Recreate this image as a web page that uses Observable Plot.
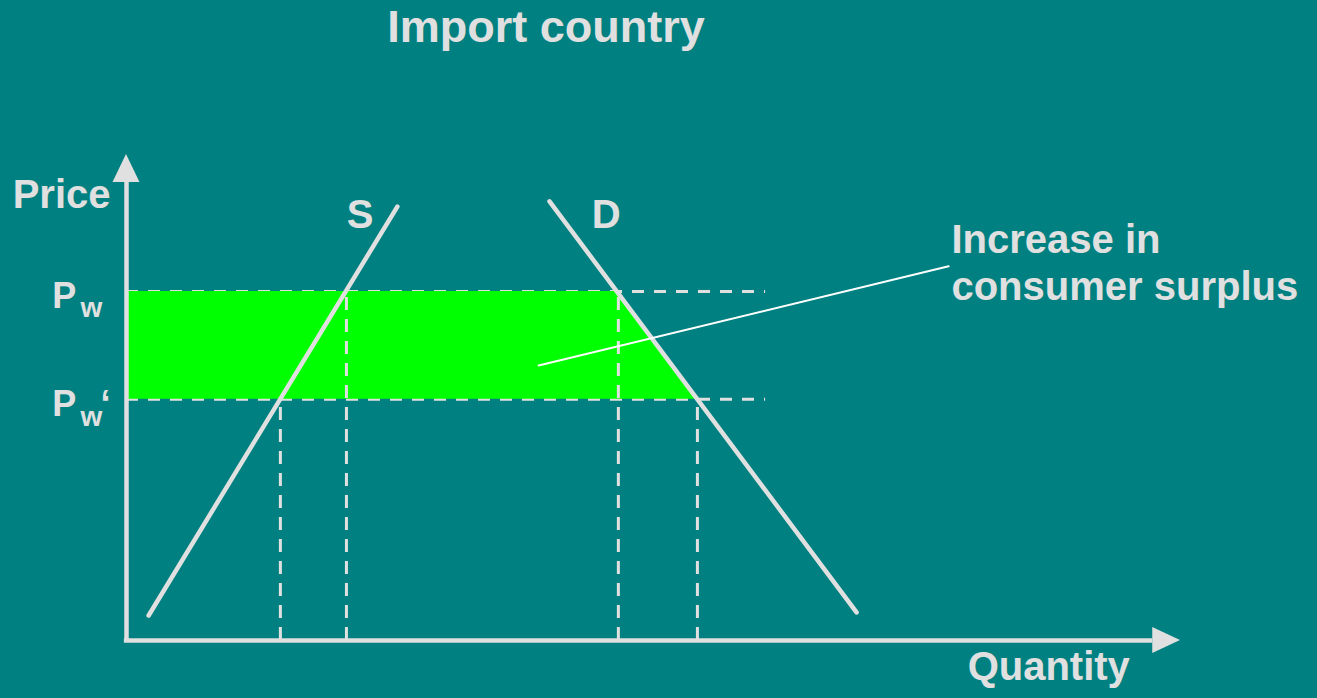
<!DOCTYPE html>
<html>
<head>
<meta charset="utf-8">
<script src="https://cdn.jsdelivr.net/npm/d3@7"></script>
<script src="https://cdn.jsdelivr.net/npm/@observablehq/plot@0.6"></script>
<style>
  html, body { margin: 0; padding: 0; background: #008080; overflow: hidden; }
  #title { height: 58px; padding-top: 2px; width: 1092px; text-align: center; font: bold 45px "Liberation Sans", Arial, sans-serif; line-height: 50px; color: #e0e0e0; }
  #chart svg { display: block; }
</style>
</head>
<body>
<div id="title">Import country</div>
<div id="chart"></div>
<script>
// ---- data (abstract quantity / price units) ----
const axisMax = { q: 30, p: 14 };               // arrow tips
const arrowBase = { q: 29.21, p: 13.19 };       // where arrowheads start
const arrowHalf = { q: 0.384, p: 0.375 };       // half-width of arrowheads

const supplyLine = [ { q: 0.63, p: 0.72 }, { q: 7.71, p: 12.50 } ];
const demandLine = [ { q: 12.04, p: 12.65 }, { q: 20.78, p: 0.81 } ];

const worldPrices = [ { name: "Pw", p: 10.05 }, { name: "Pw'", p: 6.95 } ];
const priceDashEnd = 18.19;

// quantities at Pw' (supply), Pw (supply), Pw (demand), Pw' (demand)
const quantityDashes = [
  { q: 4.38, p: 6.95 },
  { q: 6.26, p: 10.05 },
  { q: 14.0, p: 10.05 },
  { q: 16.25, p: 6.95 }
];

// consumer surplus gain: trapezoid between Pw' and Pw, left of demand
const surplusArea = [
  { p: 6.95, q1: 0, q2: 16.25 },
  { p: 10.05, q1: 0, q2: 14.0 }
];

const pointerLine = [ { q: 11.73, p: 7.92 }, { q: 23.40, p: 10.78 } ];

const curveLabels = [ { text: "S", q: 6.65, p: 11.87 }, { text: "D", q: 13.65, p: 11.87 } ];
const priceAxisLabel = [ { text: "Price", q: -0.455, p: 12.45 } ];
const quantityAxisLabel = [ { text: "Quantity", q: 26.25, p: -1.15 } ];
const priceLabelP = [ { q: -2.11, p: 9.59 }, { q: -2.11, p: 6.48 } ];
const priceLabelW = [ { q: -1.31, p: 9.31 }, { q: -1.31, p: 6.19 } ];
const priceLabelPrime = [ { q: -0.74, p: 6.48 } ];
const annotation = [ { text: "Increase in\nconsumer surplus", q: 23.48, p: 9.80 } ];

// ---- drawing ----
const ink = "#e0e0e0";
const font = '"Liberation Sans", Arial, sans-serif';

const xArrow = [
  { q: arrowBase.q, lo: -arrowHalf.p, hi: arrowHalf.p },
  { q: axisMax.q, lo: 0, hi: 0 }
];
const yArrow = [
  { p: arrowBase.p, lo: -arrowHalf.q, hi: arrowHalf.q },
  { p: axisMax.p, lo: 0, hi: 0 }
];

const chart = Plot.plot({
  width: 1317,
  height: 638,
  marginLeft: 126,
  marginRight: 137,
  marginTop: 94,
  marginBottom: 58,
  x: { domain: [0, axisMax.q], axis: null },
  y: { domain: [0, axisMax.p], axis: null },
  style: { background: "transparent", fontFamily: font },
  marks: [
    // horizontal dashed price lines
    Plot.ruleY(worldPrices, { y: "p", x1: 0, x2: priceDashEnd, stroke: ink, strokeWidth: 3, strokeDasharray: "12,10" }),
    // green trapezoid
    Plot.areaX(surplusArea, { y: "p", x1: "q1", x2: "q2", fill: "#00ff00", curve: "linear" }),
    // vertical dashed quantity lines
    Plot.ruleX(quantityDashes, { x: "q", y1: 0, y2: "p", stroke: ink, strokeWidth: 3, strokeDasharray: "13,9" }),
    // supply and demand
    Plot.line(supplyLine, { x: "q", y: "p", stroke: ink, strokeWidth: 4.5 }),
    Plot.line(demandLine, { x: "q", y: "p", stroke: ink, strokeWidth: 4.5 }),
    // pointer
    Plot.line(pointerLine, { x: "q", y: "p", stroke: "#ffffff", strokeWidth: 2 }),
    // axes
    Plot.ruleX([0], { y1: -0.06, y2: arrowBase.p, stroke: ink, strokeWidth: 4.5 }),
    Plot.ruleY([0], { x1: -0.06, x2: arrowBase.q, stroke: ink, strokeWidth: 4.5 }),
    Plot.areaY(xArrow, { x: "q", y1: "lo", y2: "hi", fill: ink }),
    Plot.areaX(yArrow, { y: "p", x1: "lo", x2: "hi", fill: ink }),
    // texts
    Plot.text(priceAxisLabel, { x: "q", y: "p", text: "text", textAnchor: "end", lineAnchor: "bottom", fontSize: 40, fontWeight: "bold", fill: ink }),
    Plot.text(quantityAxisLabel, { x: "q", y: "p", text: "text", textAnchor: "middle", lineAnchor: "bottom", fontSize: 40, fontWeight: "bold", fill: ink }),
    Plot.text(curveLabels, { x: "q", y: "p", text: "text", textAnchor: "middle", lineAnchor: "bottom", fontSize: 40, fontWeight: "bold", fill: ink }),
    Plot.text(priceLabelP, { x: "q", y: "p", text: () => "P", textAnchor: "start", lineAnchor: "bottom", fontSize: 36, fontWeight: "bold", fill: ink }),
    Plot.text(priceLabelW, { x: "q", y: "p", text: () => "w", textAnchor: "start", lineAnchor: "bottom", fontSize: 28, fontWeight: "bold", fill: ink }),
    Plot.text(priceLabelPrime, { x: "q", y: "p", text: () => "\u2018", textAnchor: "start", lineAnchor: "bottom", fontSize: 36, fontWeight: "bold", fill: ink }),
    Plot.text(annotation, { x: "q", y: "p", text: "text", textAnchor: "start", lineAnchor: "bottom", lineHeight: 1.175, fontSize: 40, fontWeight: "bold", fill: ink })
  ]
});
document.getElementById("chart").appendChild(chart);
</script>
</body>
</html>
